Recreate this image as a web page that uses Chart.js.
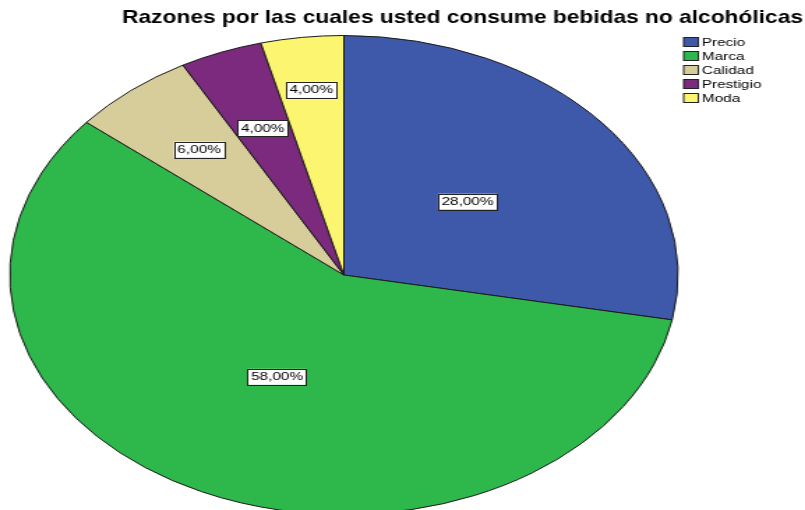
<!DOCTYPE html>
<html>
<head>
<meta charset="utf-8">
<script src="https://cdn.jsdelivr.net/npm/chart.js@4/dist/chart.umd.min.js"></script>
<style>
  html, body { margin: 0; padding: 0; background: #fff; overflow: hidden; }
  /* the whole chart is drawn round and then widened, so the pie comes out oval */
  #wrap { width: 577px; height: 510px; transform: scaleX(1.3952); transform-origin: 0 0; }
</style>
</head>
<body>
<div id="wrap"><canvas id="pie" width="577" height="510"></canvas></div>
<script>
const titleText = 'Razones por las cuales usted consume bebidas no alcohólicas';
const categories = ['Precio', 'Marca', 'Calidad', 'Prestigio', 'Moda'];
const percents = [28, 58, 6, 4, 4];
const colors = ['#3e58aa', '#2eb84b', '#d6cd9a', '#7b2a7e', '#fbf56f'];
// where each value box sits along its slice (0 = centre, 1 = rim)
const labelSpots = [0.48, 0.47, 0.68, 0.66, 0.78];

const FONT = "'Liberation Sans', Arial, sans-serif";

const fmt = v => v.toFixed(2).replace('.', ',') + '%';

const decorations = {
  id: 'decorations',
  afterDatasetsDraw(chart) {
    const ctx = chart.ctx;
    const arcs = chart.getDatasetMeta(0).data;
    ctx.save();
    ctx.font = '11px ' + FONT;
    ctx.textAlign = 'center';
    ctx.textBaseline = 'middle';
    arcs.forEach((arc, i) => {
      const { x, y, startAngle, endAngle, outerRadius } = arc.getProps(['x', 'y', 'startAngle', 'endAngle', 'outerRadius'], true);
      const mid = (startAngle + endAngle) / 2;
      const r = outerRadius * labelSpots[i];
      const lx = x + Math.cos(mid) * r;
      const ly = y + Math.sin(mid) * r;
      const txt = fmt(percents[i]);
      const w = ctx.measureText(txt).width + 5;
      const h = 16;
      ctx.fillStyle = '#fff';
      ctx.fillRect(lx - w / 2, ly - h / 2, w, h);
      ctx.strokeStyle = '#222';
      ctx.lineWidth = 1;
      ctx.strokeRect(Math.round(lx - w / 2) + 0.5, Math.round(ly - h / 2) + 0.5, Math.round(w), h);
      ctx.fillStyle = '#000';
      ctx.fillText(txt, lx, ly + 0.5);
    });
    ctx.restore();
  },
  afterDraw(chart) {
    const ctx = chart.ctx;
    ctx.save();
    // title, squeezed to span its slot
    ctx.font = 'bold 19px ' + FONT;
    ctx.fillStyle = '#000';
    ctx.textBaseline = 'middle';
    const tw = ctx.measureText(titleText).width;
    const slot = 488;
    ctx.translate(87.5, 18);
    ctx.scale(slot / tw, 1);
    ctx.textAlign = 'left';
    ctx.fillText(titleText, 0, 0);
    ctx.restore();

    // legend
    ctx.save();
    ctx.font = '11px ' + FONT;
    ctx.textAlign = 'left';
    ctx.textBaseline = 'middle';
    categories.forEach((name, i) => {
      const cy = 42 + i * 14;
      ctx.fillStyle = colors[i];
      ctx.fillRect(490, cy - 4.5, 10.5, 9);
      ctx.strokeStyle = '#222';
      ctx.lineWidth = 1;
      ctx.strokeRect(490, cy - 4.5, 10.5, 9);
      ctx.fillStyle = '#000';
      ctx.fillText(name, 503, cy + 0.5);
    });
    ctx.restore();
  }
};

new Chart(document.getElementById('pie'), {
  type: 'pie',
  data: {
    labels: categories,
    datasets: [{
      data: percents,
      backgroundColor: colors,
      borderColor: '#1a1a1a',
      borderWidth: 1,
      clip: false
    }]
  },
  options: {
    responsive: false,
    animation: false,
    radius: 239.5,
    layout: { padding: { left: 0, right: 84, top: 40, bottom: 0 } },
    plugins: {
      legend: { display: false },
      title: { display: false },
      tooltip: { enabled: false }
    }
  },
  plugins: [decorations]
});
</script>
</body>
</html>
